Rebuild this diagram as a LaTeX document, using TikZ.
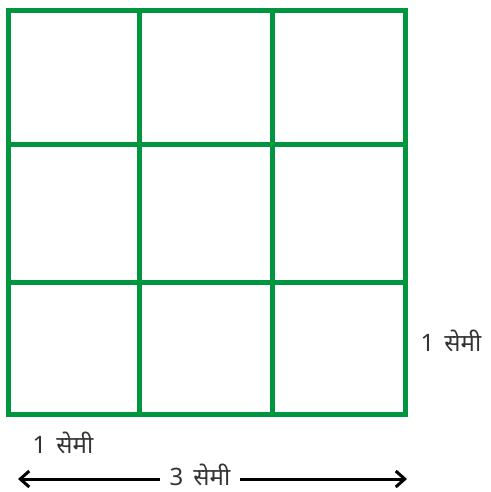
\documentclass[tikz,border=0pt]{standalone}
\usepackage{fontspec}
\newfontfamily\devfont[Script=Devanagari]{Noto Sans}
\definecolor{gridgreen}{HTML}{009640}
\definecolor{txt}{HTML}{333333}
\usetikzlibrary{arrows.meta}
\tikzset{
  gridline/.style={draw=gridgreen, line width=5pt},
  lbl/.style={text=txt, font=\devfont\fontsize{24}{26}\selectfont, inner sep=1pt},
  dimarrow/.style={draw=black, line width=3pt, -{Straight Barb[length=9pt,width=16pt]}},
}
\begin{document}
\begin{tikzpicture}[x=1pt,y=-1pt]
\useasboundingbox (0,0) rectangle (490,492);
\fill[white] (0,0) rectangle (490,492);
\coordinate (tl) at (8,11);
\coordinate (br) at (405,414);
\draw[gridline] (8,144) -- (405,144);
\draw[gridline] (8,282) -- (405,282);
\draw[gridline] (139,11) -- (139,414);
\draw[gridline] (272,11) -- (272,414);
\draw[gridline] (tl) rectangle (br);
\node[lbl] (rlab) at (451,341) {1\hspace{10pt}सेमी};
\node[lbl] (blab) at (63,443) {1\hspace{10pt}सेमी};
\node[lbl, inner xsep=10pt, inner ysep=0pt] (mlab) at (200,475) {3\hspace{10pt}सेमी};
\coordinate (aleft) at (18,479);
\coordinate (aright) at (407,479);
\draw[dimarrow] (mlab.west |- aleft) -- (aleft);
\draw[dimarrow] (mlab.east |- aright) -- (aright);
\end{tikzpicture}
\end{document}
